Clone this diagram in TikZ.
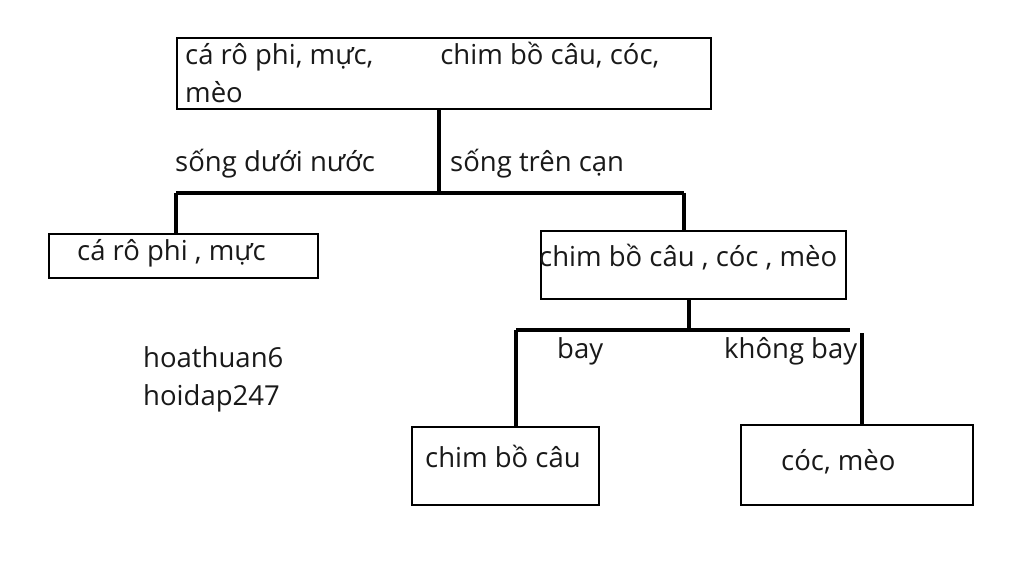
\documentclass[tikz,border=0pt]{standalone}
\usepackage{fontspec}
\setmainfont{Open Sans}
\usetikzlibrary{positioning}

\tikzset{
  hop/.style={draw, line width=2.5pt, inner sep=0pt},
  nhanh/.style={line width=4.5pt},
  chu/.style={inner sep=0pt, anchor=base west, text=black!90},
}

\begin{document}
\begin{tikzpicture}[x=1pt,y=-1pt, font=\fontsize{27.5}{38}\selectfont]
\useasboundingbox[fill=white] (0,0) rectangle (1024,585);

% hop tren cung
\node[hop, minimum width=534, minimum height=71] (goc) at (444,73.5) {};
\node[chu] (goc1) at (185,65) {cá rô phi, mực,\hspace{67pt}chim bồ câu, cóc,};
\node[chu] (goc2) at (185,103) {mèo};

% nhanh 1
\coordinate (r1) at (439,193);
\coordinate (r1l) at (176,193);
\coordinate (r1r) at (684,193);
\node[chu] (duoinuoc) at (175,172) {sống dưới nước};
\node[chu] (trencan) at (450,172) {sống trên cạn};

\node[hop, minimum width=269, minimum height=44] (nuoc) at (183.5,256) {};
\node[chu] (nuoct) at (77,260) {cá rô phi , mực};

\node[hop, minimum width=305, minimum height=68] (can) at (693.5,265) {};
\node[chu] (cant) at (539,266) {chim bồ câu , cóc , mèo};

\draw[nhanh] (goc.south -| r1) -- (r1);
\draw[nhanh] (r1l) -- (r1r);
\draw[nhanh] (r1l) -- (nuoc.north -| r1l);
\draw[nhanh] (r1r) -- (can.north -| r1r);

% nhanh 2
\coordinate (r2) at (689,330);
\coordinate (r2l) at (516,330);
\coordinate (r2r) at (850,330);
\coordinate (kb) at (862,333);
\node[chu] (bay) at (557,358) {bay};
\node[chu] (khongbay) at (724,358) {không bay};

\node[hop, minimum width=187, minimum height=78] (chim) at (505.5,466) {};
\node[chu] (chimt) at (425,467) {chim bồ câu};

\node[hop, minimum width=232, minimum height=80] (cocmeo) at (857,465) {};
\node[chu] (cocmeot) at (781,470) {cóc, mèo};

\draw[nhanh] (can.south -| r2) -- (r2);
\draw[nhanh] (r2l) -- (r2r);
\draw[nhanh] (r2l) -- (chim.north -| r2l);
\draw[nhanh] (kb) -- (cocmeo.north -| kb);

% chu ky
\node[chu] (ten1) at (143,367) {hoathuan6};
\node[chu] (ten2) at (143,405) {hoidap247};

\end{tikzpicture}
\end{document}
